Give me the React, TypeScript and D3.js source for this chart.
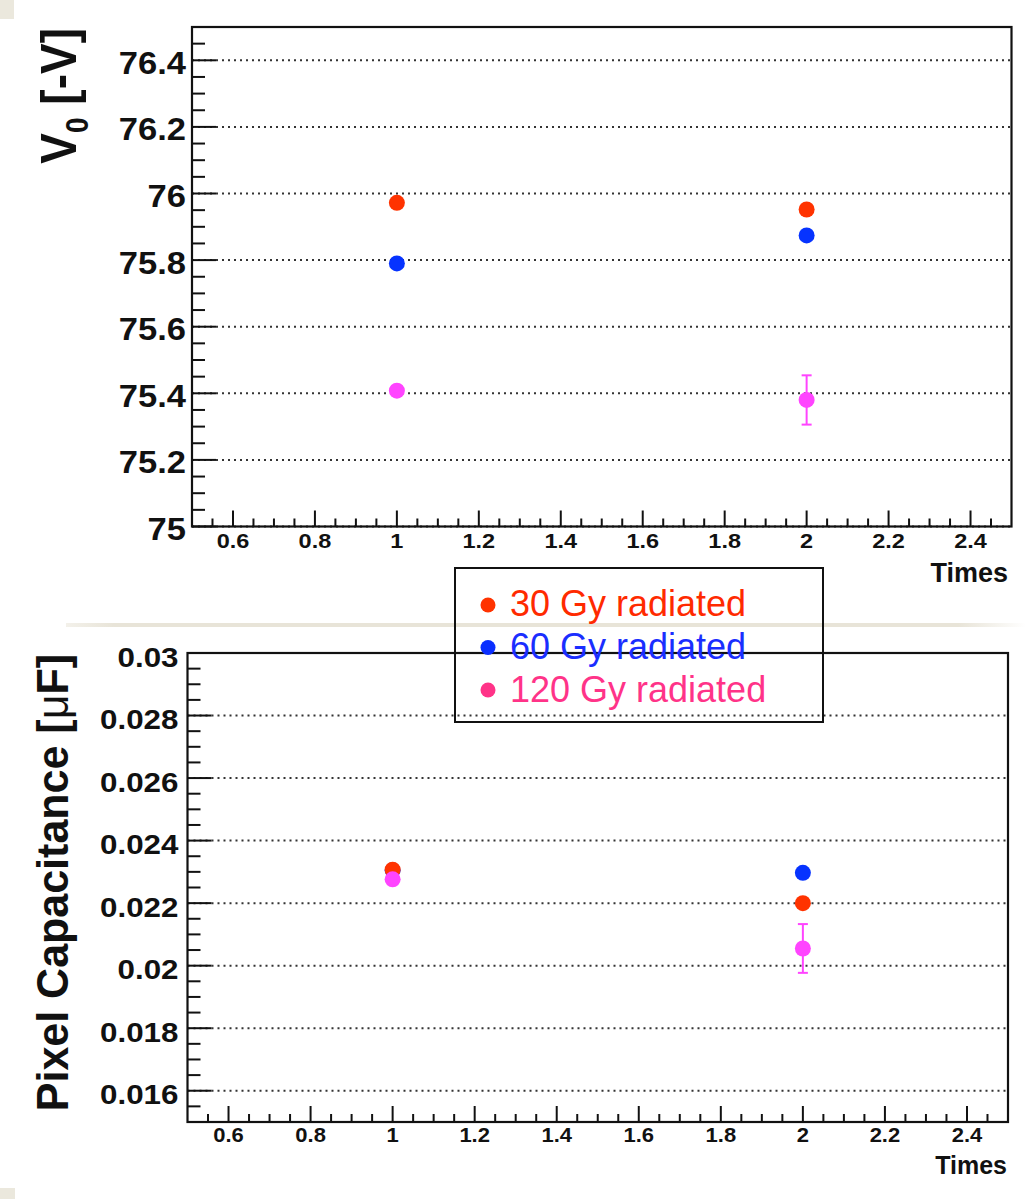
import React from "react";
import * as d3 from "d3";

// ---------- data ----------
const times = [1, 2];
const series = ["60 Gy radiated", "30 Gy radiated", "120 Gy radiated"];
const v0_30 = [75.972, 75.952];
const v0_60 = [75.79, 75.874];
const v0_120 = [75.408, 75.38];
const v0_120_err = [0.0, 0.074];
const cap_30 = [0.02307, 0.0220];
const cap_60 = [0.02305, 0.02297];
const cap_120 = [0.02276, 0.02055];
const cap_120_err = [0.0, 0.00078];

const xMajor = [0.6, 0.8, 1, 1.2, 1.4, 1.6, 1.8, 2, 2.2, 2.4];
const xLabels = ["0.6", "0.8", "1", "1.2", "1.4", "1.6", "1.8", "2", "2.2", "2.4"];
const v0Major = [75, 75.2, 75.4, 75.6, 75.8, 76, 76.2, 76.4];
const v0Labels = ["75", "75.2", "75.4", "75.6", "75.8", "76", "76.2", "76.4"];
const capMajor = [0.016, 0.018, 0.02, 0.022, 0.024, 0.026, 0.028, 0.03];
const capLabels = ["0.016", "0.018", "0.02", "0.022", "0.024", "0.026", "0.028", "0.03"];

const legendLabels = ["30 Gy radiated", "60 Gy radiated", "120 Gy radiated"];
const legendTextColors = ["#ff2a00", "#1a2eff", "#ff3388"];
const legendMarkerColors = ["#ff3300", "#0a2eff", "#ff3388"];

const C_RED = "#ff3300";
const C_BLUE = "#0633ff";
const C_MAG = "#ff44ff";

const FONT = "'Liberation Sans', Arial, Helvetica, sans-serif";

type PanelProps = {
  left: number; right: number; top: number; bottom: number;
  yDomain: [number, number];
  yMajor: number[]; yLabels: string[]; yMinorStep: number;
  yFont: number; ySx: number; yLabelGap: number;
  xFont: number; xSx: number; xLabelBase: number;
  timesX: number; timesY: number; timesFont: number;
  data: { vals: number[]; err?: number[]; color: string }[];
  errScaleUnit: number;
};

function Panel(p: PanelProps) {
  const x = d3.scaleLinear().domain([0.5, 2.5]).range([p.left, p.right]);
  const y = d3.scaleLinear().domain(p.yDomain).range([p.bottom, p.top]);
  const xMinor = d3.range(0.55, 2.5, 0.05).filter((v) => !xMajor.some((m) => Math.abs(m - v) < 1e-6));
  const nMinY = Math.round((p.yDomain[1] - p.yDomain[0]) / p.yMinorStep);
  const yMinor = d3.range(1, nMinY).map((i) => p.yDomain[0] + i * p.yMinorStep)
    .filter((v) => !p.yMajor.some((m) => Math.abs(m - v) < p.yMinorStep / 10));
  return (
    <g>
      {/* grid */}
      {p.yMajor.map((v, i) => (
        <line key={"g" + i} x1={p.left} x2={p.right} y1={y(v)} y2={y(v)}
          stroke="#333" strokeWidth={2} strokeDasharray="2,4" />
      ))}
      {/* y ticks */}
      {p.yMajor.map((v, i) => (
        <line key={"ym" + i} x1={p.left} x2={p.left + 24} y1={y(v)} y2={y(v)} stroke="#111" strokeWidth={2} />
      ))}
      {yMinor.map((v, i) => (
        <line key={"yn" + i} x1={p.left} x2={p.left + 13} y1={y(v)} y2={y(v)} stroke="#111" strokeWidth={2} />
      ))}
      {/* x ticks */}
      {xMajor.map((v, i) => (
        <line key={"xm" + i} x1={x(v)} x2={x(v)} y1={p.bottom} y2={p.bottom - 16} stroke="#111" strokeWidth={2} />
      ))}
      {xMinor.map((v, i) => (
        <line key={"xn" + i} x1={x(v)} x2={x(v)} y1={p.bottom} y2={p.bottom - 8} stroke="#111" strokeWidth={2} />
      ))}
      {/* frame */}
      <rect x={p.left} y={p.top} width={p.right - p.left} height={p.bottom - p.top}
        fill="none" stroke="#111" strokeWidth={2.2} />
      {/* y labels */}
      {p.yLabels.map((t, i) => (
        <text key={"yl" + i} transform={`translate(${p.left - p.yLabelGap},${y(p.yMajor[i]) + 13.5}) scale(${p.ySx},1)`}
          textAnchor="end" fontFamily={FONT} fontWeight="bold" fontSize={p.yFont} fill="#111">{t}</text>
      ))}
      {/* x labels */}
      {xLabels.map((t, i) => (
        <text key={"xl" + i} transform={`translate(${x(xMajor[i])},${p.xLabelBase}) scale(${p.xSx},1)`}
          textAnchor="middle" fontFamily={FONT} fontWeight="bold" fontSize={p.xFont} fill="#111">{t}</text>
      ))}
      <text x={p.timesX} y={p.timesY} textAnchor="end" fontFamily={FONT} fontWeight="bold"
        fontSize={p.timesFont} fill="#111">Times</text>
      {/* data */}
      {p.data.map((s, si) => (
        <g key={"s" + si}>
          {s.vals.map((v, i) => {
            const e = s.err ? s.err[i] : 0;
            return (
              <g key={i}>
                {e > 0 && (
                  <g stroke={s.color} strokeWidth={2}>
                    <line x1={x(times[i])} x2={x(times[i])} y1={y(v - e)} y2={y(v + e)} />
                    <line x1={x(times[i]) - 5} x2={x(times[i]) + 5} y1={y(v - e)} y2={y(v - e)} />
                    <line x1={x(times[i]) - 5} x2={x(times[i]) + 5} y1={y(v + e)} y2={y(v + e)} />
                  </g>
                )}
                <circle cx={x(times[i])} cy={y(v)} r={8} fill={s.color} />
              </g>
            );
          })}
        </g>
      ))}
    </g>
  );
}

export default function App() {
  return (
    <div style={{ position: "absolute", left: 0, top: 0, width: 1026, height: 1199, background: "#fff" }}>
      <svg width={1026} height={1199} viewBox="0 0 1026 1199">
        <defs>
          <linearGradient id="sepGrad" x1="0" x2="1" y1="0" y2="0">
            <stop offset="0" stopColor="#ebe7dc" stopOpacity={0.6} />
            <stop offset="0.05" stopColor="#e8e4d8" />
            <stop offset="0.93" stopColor="#e8e4d8" />
            <stop offset="1" stopColor="#e8e4d8" stopOpacity={0} />
          </linearGradient>
        </defs>
        <rect x={0} y={0} width={1026} height={1199} fill="#fff" />
        <rect x={0} y={0} width={14} height={19} fill="#ebe8dd" />
        <rect x={0} y={1188} width={15} height={11} fill="#ebe8dd" />
        <rect x={66} y={623} width={960} height={4} fill="url(#sepGrad)" />

        <Panel left={192} right={1011.5} top={27} bottom={526.5}
          yDomain={[75, 76.5]} yMajor={v0Major} yLabels={v0Labels} yMinorStep={0.05}
          yFont={32} ySx={1.08} yLabelGap={6}
          xFont={21} xSx={1.12} xLabelBase={548}
          timesX={1008} timesY={582} timesFont={27}
          errScaleUnit={1}
          data={[
            { vals: v0_60, color: C_BLUE },
            { vals: v0_30, color: C_RED },
            { vals: v0_120, err: v0_120_err, color: C_MAG },
          ]} />

        <Panel left={187.5} right={1008} top={653} bottom={1122}
          yDomain={[0.015, 0.03]} yMajor={capMajor} yLabels={capLabels} yMinorStep={0.0005}
          yFont={28} ySx={1.12} yLabelGap={9}
          xFont={20} xSx={1.1} xLabelBase={1142}
          timesX={1007} timesY={1174} timesFont={25}
          errScaleUnit={1}
          data={[
            { vals: cap_60, color: C_BLUE },
            { vals: cap_30, color: C_RED },
            { vals: cap_120, err: cap_120_err, color: C_MAG },
          ]} />

        {/* y titles */}
        <text transform="translate(76,28) rotate(-90) scale(1,1.1)" textAnchor="end"
          fontFamily={FONT} fontWeight="bold" fontSize={46} fill="#111">
          V<tspan fontSize={28} dy={11}>0</tspan><tspan dy={-11}> [-V]</tspan>
        </text>
        <text transform="translate(68,654) rotate(-90) scale(1,1.05)" textAnchor="end"
          fontFamily={FONT} fontWeight="bold" fontSize={43} fill="#111">
          Pixel Capacitance [<tspan fontWeight="normal">μ</tspan>F]
        </text>

        {/* legend */}
        <rect x={455} y={568} width={368} height={154} fill="none" stroke="#111" strokeWidth={2} />
        {legendLabels.map((t, i) => (
          <g key={"lg" + i}>
            <circle cx={488} cy={605 + i * 42.5} r={7.5} fill={legendMarkerColors[i]} />
            <text x={510} y={616 + i * 43} fontFamily={FONT} fontSize={36} fill={legendTextColors[i]}>{t}</text>
          </g>
        ))}
      </svg>
    </div>
  );
}
